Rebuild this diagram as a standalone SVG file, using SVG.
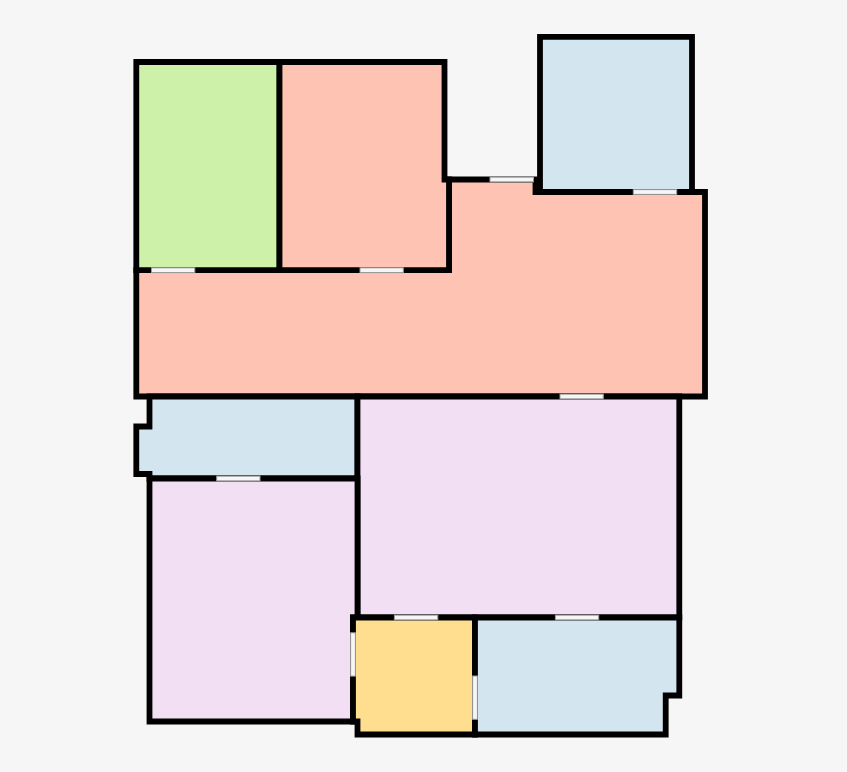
<svg xmlns="http://www.w3.org/2000/svg" width="847" height="772" viewBox="0 0 847 772">
<style>
.room{stroke:#000;stroke-width:5.8;stroke-linejoin:miter}
.green{fill:#cdf1a8}.salmon{fill:#fec3b2}.pink{fill:#f3dff3}.blue{fill:#d3e6ef}.yellow{fill:#ffdf8f}
.door{fill:#f6f6f6;stroke:#999;stroke-width:1}
</style>
<rect width="847" height="772" fill="#f6f6f6"/>
<g id="rooms">
<polygon id="hall" class="room salmon" points="136.3,270.2 449,270.2 449,179.5 535.5,179.5 535.5,192 705,192 705,396.5 136.3,396.5"/>
<polygon id="bed-green" class="room green" points="136.3,62 279.5,62 279.5,270.2 136.3,270.2"/>
<polygon id="bed-salmon" class="room salmon" points="279.5,62 444.5,62 444.5,179.5 449,179.5 449,270.2 279.5,270.2"/>
<polygon id="balcony-top" class="room blue" points="540,36.8 692,36.8 692,192 540,192"/>
<polygon id="balcony-left" class="room blue" points="149.5,396.5 357.5,396.5 357.5,478.5 149.5,478.5 149.5,474 136.3,474 136.3,426.5 149.5,426.5"/>
<polygon id="living" class="room pink" points="357.5,396.5 679.3,396.5 679.3,617.5 353,617.5 357.5,617.5"/>
<polygon id="bed-pink" class="room pink" points="149.5,478.5 357.5,478.5 357.5,617.5 353,617.5 353,721.5 149.5,721.5"/>
<polygon id="bath" class="room yellow" points="353,617.5 475,617.5 475,734.5 357.5,734.5 357.5,721.5 353,721.5"/>
<polygon id="balcony-bottom" class="room blue" points="475,617.5 679.3,617.5 679.3,695.5 665.7,695.5 665.7,734.5 475,734.5"/>
</g>
<g id="doors">
<rect class="door" x="151.5" y="267.8" width="43.3" height="4.8"/>
<rect class="door" x="360" y="267.8" width="43.3" height="4.8"/>
<rect class="door" x="490" y="177.1" width="43.5" height="4.8"/>
<rect class="door" x="633.3" y="189.6" width="43.4" height="4.8"/>
<rect class="door" x="560" y="394.1" width="43.3" height="4.8"/>
<rect class="door" x="216.7" y="476.1" width="43.3" height="4.8"/>
<rect class="door" x="394.4" y="615.1" width="43.4" height="4.8"/>
<rect class="door" x="555.4" y="615.1" width="43.3" height="4.8"/>
<rect class="door" x="350.6" y="632.8" width="4.8" height="43.3"/>
<rect class="door" x="472.6" y="676" width="4.8" height="43.3"/>
</g>
</svg>
